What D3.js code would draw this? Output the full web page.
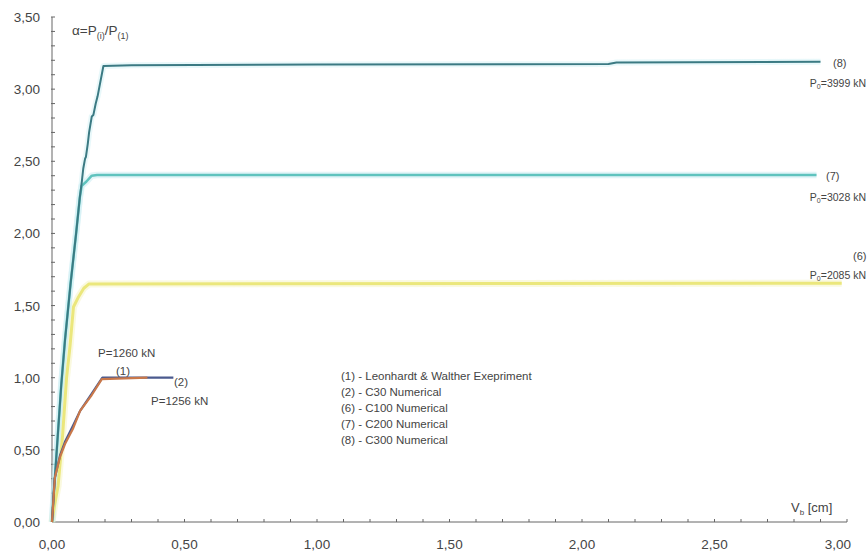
<!DOCTYPE html>
<html>
<head>
<meta charset="utf-8">
<script src="https://cdn.jsdelivr.net/npm/d3@7"></script>
<style>
  html, body { margin: 0; padding: 0; background: #fff; }
  svg { display: block; font-family: "Liberation Sans", Arial, sans-serif; }
</style>
</head>
<body>
<svg id="chart" width="868" height="551"></svg>
<script>
// Load–displacement curves: alpha = P(i)/P(1) against vertical displacement Vb [cm]
const xTicks = [0, 0.5, 1.0, 1.5, 2.0, 2.5, 3.0];
const yTicks = [0, 0.5, 1.0, 1.5, 2.0, 2.5, 3.0, 3.5];

// (1) Leonhardt & Walther experiment
const expX = [0, 0.011, 0.03, 0.049, 0.08, 0.106, 0.15, 0.188, 0.36];
const expY = [0, 0.31, 0.45, 0.54, 0.65, 0.77, 0.88, 0.99, 1.0];
// (2) C30 numerical
const c30X = [0, 0.01, 0.03, 0.05, 0.08, 0.106, 0.15, 0.19, 0.458];
const c30Y = [0, 0.30, 0.46, 0.56, 0.67, 0.77, 0.89, 1.0, 1.0];
// (6) C100 numerical
const c100X = [0, 0.01, 0.023, 0.04, 0.055, 0.068, 0.081, 0.1, 0.12, 0.14, 2.98];
const c100Y = [0, 0.12, 0.25, 0.6, 1.0, 1.22, 1.49, 1.56, 1.62, 1.65, 1.655];
// (7) C200 numerical
const c200X = [0, 0.005, 0.02, 0.035, 0.049, 0.07, 0.091, 0.105, 0.112, 0.13, 0.15, 0.17, 2.885];
const c200Y = [0, 0.15, 0.55, 0.95, 1.26, 1.65, 2.0, 2.25, 2.33, 2.36, 2.40, 2.405, 2.405];
// (8) C300 numerical
const c300X = [0, 0.005, 0.02, 0.035, 0.049, 0.07, 0.091, 0.105, 0.112, 0.118, 0.125, 0.128, 0.135, 0.14, 0.15, 0.156, 0.165, 0.172, 0.194, 0.3, 1.0, 2.1, 2.13, 2.9];
const c300Y = [0, 0.15, 0.55, 0.95, 1.26, 1.65, 2.0, 2.25, 2.35, 2.45, 2.52, 2.53, 2.62, 2.7, 2.81, 2.82, 2.9, 2.95, 3.16, 3.165, 3.17, 3.175, 3.185, 3.19];

const legendLines = [
  "(1) - Leonhardt & Walther Exepriment",
  "(2) - C30 Numerical",
  "(6) - C100 Numerical",
  "(7) - C200 Numerical",
  "(8) - C300 Numerical"
];

const svg = d3.select("#chart");
const x = d3.scaleLinear().domain([0, 3]).range([52, 847]);
const y = d3.scaleLinear().domain([0, 3.5]).range([522, 17]);

const axisColor = "#666";
const textColor = "#444";

// axes lines
svg.append("line").attr("x1", x(0)).attr("x2", x(3)).attr("y1", y(0)).attr("y2", y(0))
  .attr("stroke", axisColor).attr("stroke-width", 1);
svg.append("line").attr("x1", x(0)).attr("x2", x(0)).attr("y1", y(0)).attr("y2", y(3.5))
  .attr("stroke", axisColor).attr("stroke-width", 1);

// minor ticks every 0.1
const yMinor = d3.range(1, 36).map(i => i / 10);
svg.append("g").selectAll("line").data(yMinor).join("line")
  .attr("x1", x(0) - 1).attr("x2", x(0) + 3)
  .attr("y1", d => y(d)).attr("y2", d => y(d))
  .attr("stroke", axisColor).attr("stroke-width", 1);
const xMinor = d3.range(1, 31).map(i => i / 10);
svg.append("g").selectAll("line").data(xMinor).join("line")
  .attr("x1", d => x(d)).attr("x2", d => x(d))
  .attr("y1", y(0)).attr("y2", y(0) - 3)
  .attr("stroke", axisColor).attr("stroke-width", 1);

const fmt = d => d.toFixed(2).replace(".", ",");

svg.append("g").selectAll("text").data(yTicks).join("text")
  .attr("x", 40).attr("y", d => y(d) + 5)
  .attr("text-anchor", "end").attr("font-size", 13.5).attr("fill", textColor)
  .text(fmt);
svg.append("g").selectAll("text").data(xTicks).join("text")
  .attr("x", d => x(d)).attr("y", 549)
  .attr("text-anchor", d => d === 3 ? "end" : "middle")
  .attr("dx", d => d === 3 ? 4 : 0)
  .attr("font-size", 13.5).attr("fill", textColor)
  .text(fmt);

// curves
const line = d3.line().x(d => x(d[0])).y(d => y(d[1]));
const zip = (a, b) => a.map((v, i) => [v, b[i]]);

const series = [
  { xs: c100X, ys: c100Y, color: "#ebe77c", width: 3, halo: "#f3f1b8" },
  { xs: c200X, ys: c200Y, color: "#5fc3be", width: 2.5, halo: "#bfe8ef" },
  { xs: c300X, ys: c300Y, color: "#3b7a83", width: 2, halo: "#cdeff3" },
  { xs: c30X, ys: c30Y, color: "#4b5a8e", width: 2.2, halo: null },
  { xs: expX, ys: expY, color: "#c9784a", width: 2.2, halo: null }
];

series.forEach(s => {
  if (s.halo) {
    svg.append("path").datum(zip(s.xs, s.ys)).attr("d", line)
      .attr("fill", "none").attr("stroke", s.halo).attr("stroke-width", s.width + 4)
      .attr("stroke-opacity", 0.45).attr("stroke-linejoin", "round");
  }
});
series.forEach(s => {
  svg.append("path").datum(zip(s.xs, s.ys)).attr("d", line)
    .attr("fill", "none").attr("stroke", s.color).attr("stroke-width", s.width)
    .attr("stroke-linejoin", "round");
});

// y-axis title
const yt = svg.append("text").attr("x", 72).attr("y", 35).attr("font-size", 13.5).attr("fill", textColor);
yt.append("tspan").text("α=P");
yt.append("tspan").attr("font-size", 9).attr("dy", 4).text("(i)");
yt.append("tspan").attr("dy", -4).text("/P");
yt.append("tspan").attr("font-size", 9).attr("dy", 4).text("(1)");

// x-axis title
const xt = svg.append("text").attr("x", 791).attr("y", 512).attr("font-size", 13).attr("fill", textColor);
xt.append("tspan").text("V");
xt.append("tspan").attr("font-size", 8).attr("dy", 3).text("b");
xt.append("tspan").attr("dy", -3).text(" [cm]");

// annotations
const ann = (tx, ty, str, size, anchor) =>
  svg.append("text").attr("x", tx).attr("y", ty).attr("font-size", size)
    .attr("fill", textColor).attr("text-anchor", anchor || "start").text(str);

ann(98, 357, "P=1260 kN", 11.5);
ann(116, 375, "(1)", 11.5);
ann(174, 386, "(2)", 11.5);
ann(151, 405, "P=1256 kN", 11.5);

ann(833, 67, "(8)", 11);
ann(826, 180, "(7)", 11);
ann(853, 260, "(6)", 11);

const pLabel = (ty, val) => {
  const t = svg.append("text").attr("x", 866).attr("y", ty).attr("font-size", 10.5)
    .attr("fill", textColor).attr("text-anchor", "end");
  t.append("tspan").text("P");
  t.append("tspan").attr("font-size", 7).attr("dy", 2).text("0");
  t.append("tspan").attr("dy", -2).text("=" + val + " kN");
};
pLabel(87, "3999");
pLabel(201, "3028");
pLabel(279, "2085");

// legend
svg.append("g").selectAll("text").data(legendLines).join("text")
  .attr("x", 341).attr("y", (d, i) => 380 + i * 16)
  .attr("font-size", 11.5).attr("fill", textColor)
  .text(d => d);
</script>
</body>
</html>
